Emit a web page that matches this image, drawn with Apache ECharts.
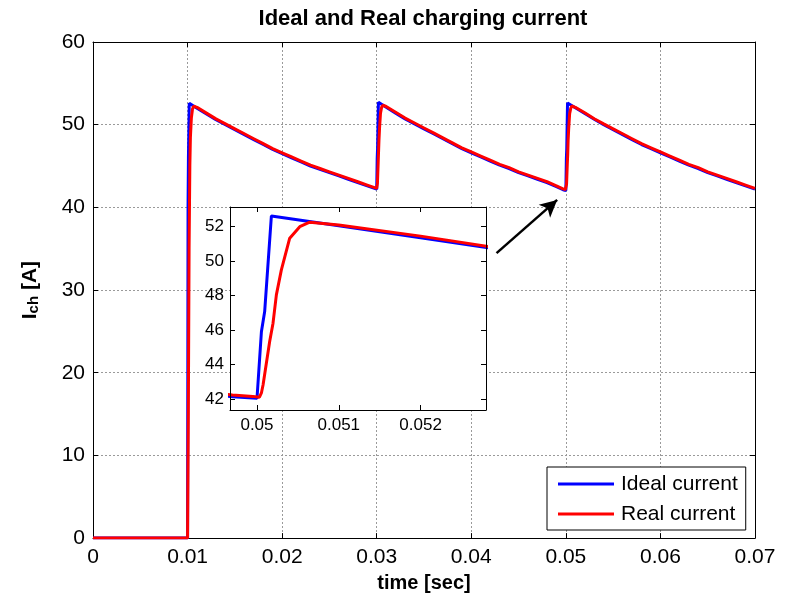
<!DOCTYPE html>
<html>
<head>
<meta charset="utf-8">
<script src="https://cdn.jsdelivr.net/npm/echarts@6/dist/echarts.min.js"></script>
<style>html,body{margin:0;padding:0;background:#fff;}#c{width:788px;height:598px;}</style>
</head>
<body>
<div id="c"></div>
<script>
// ---- data ----
const titleText = 'Ideal and Real charging current';
const xName = 'time [sec]';
const seriesNames = ['Ideal current', 'Real current'];

const idealT = [
  0, 0.01, 0.01005, 0.01009, 0.01018,
  0.011, 0.012, 0.013, 0.014, 0.015, 0.016, 0.017, 0.018, 0.019, 0.020,
  0.021, 0.022, 0.023, 0.024, 0.025, 0.026, 0.027, 0.028, 0.029, 0.030,
  0.03005, 0.03009, 0.03018,
  0.031, 0.032, 0.033, 0.034, 0.035, 0.036, 0.037, 0.038, 0.039, 0.040,
  0.041, 0.042, 0.043, 0.044, 0.045, 0.046, 0.047, 0.048, 0.049, 0.0497, 0.050,
  0.050054, 0.050094, 0.050176,
  0.051, 0.052, 0.053, 0.054, 0.055, 0.056, 0.057, 0.058, 0.059, 0.060,
  0.061, 0.062, 0.063, 0.064, 0.065, 0.066, 0.067, 0.068, 0.069, 0.070
];
const idealI = [
  0, 0, 40, 46, 52.6,
  52.0, 51.3, 50.6, 50.0, 49.4, 48.8, 48.2, 47.6, 47.0, 46.5,
  46.0, 45.5, 45.0, 44.6, 44.2, 43.8, 43.4, 43.0, 42.6, 42.2,
  45.9, 47.1, 52.7,
  52.1, 51.4, 50.7, 50.1, 49.5, 48.9, 48.3, 47.7, 47.1, 46.6,
  46.1, 45.6, 45.1, 44.7, 44.2, 43.8, 43.4, 43.0, 42.5, 42.13, 42.04,
  45.9, 47.07, 52.62,
  52.05, 51.35, 50.65, 50.0, 49.4, 48.8, 48.2, 47.6, 47.1, 46.6,
  46.1, 45.6, 45.1, 44.7, 44.2, 43.8, 43.4, 43.0, 42.6, 42.2
];

const realT = [
  0, 0.01, 0.01008, 0.01016, 0.01024, 0.0103, 0.0104, 0.01052, 0.01065,
  0.011, 0.012, 0.013, 0.014, 0.015, 0.016, 0.017, 0.018, 0.019, 0.020,
  0.021, 0.022, 0.023, 0.024, 0.025, 0.026, 0.027, 0.028, 0.029, 0.030,
  0.030075, 0.030155, 0.030237, 0.0303, 0.0304, 0.03052, 0.03065,
  0.031, 0.032, 0.033, 0.034, 0.035, 0.036, 0.037, 0.038, 0.039, 0.040,
  0.041, 0.042, 0.043, 0.044, 0.045, 0.046, 0.047, 0.048, 0.049, 0.0497,
  0.04995, 0.05003, 0.050054, 0.050074, 0.050155, 0.050196, 0.050237, 0.050298, 0.0504, 0.050523, 0.050645,
  0.051, 0.052, 0.053, 0.054, 0.055, 0.056, 0.057, 0.058, 0.059, 0.060,
  0.061, 0.062, 0.063, 0.064, 0.065, 0.066, 0.067, 0.068, 0.069, 0.070
];
const realI = [
  0, 0, 15, 35, 45, 48.5, 50.8, 51.9, 52.25,
  52.1, 51.4, 50.7, 50.1, 49.5, 48.9, 48.3, 47.7, 47.1, 46.6,
  46.1, 45.6, 45.1, 44.7, 44.3, 43.9, 43.5, 43.1, 42.7, 42.3,
  42.9, 45.4, 48.1, 49.6, 51.4, 52.1, 52.35,
  52.2, 51.5, 50.8, 50.2, 49.6, 49.0, 48.4, 47.8, 47.2, 46.7,
  46.2, 45.7, 45.2, 44.8, 44.3, 43.9, 43.5, 43.1, 42.6, 42.23,
  42.15, 42.1, 42.35, 42.81, 45.33, 46.4, 48.04, 49.49, 51.33, 52.0, 52.26,
  52.1, 51.45, 50.72, 50.1, 49.5, 48.9, 48.3, 47.7, 47.2, 46.7,
  46.2, 45.7, 45.2, 44.8, 44.3, 43.9, 43.5, 43.1, 42.7, 42.3
];

// main axes
const mainX = {min: 0, max: 0.07, step: 0.01};
const mainY = {min: 0, max: 60, step: 10};
// inset (zoom) axes: ticks fall on nice multiples (0.05, 0.051, 0.052 / 42..52)
const zoomX = {min: 0.04967, max: 0.0528, splits: 3};
const zoomY = {min: 41.36, max: 53.14, splits: 6};
// arrow annotation (data coords in main axes): tail -> head
const arrowFrom = [0.04267, 34.46];
const arrowTo = [0.04908, 40.9];

// ---- chart ----
const zip = (a, b) => a.map((v, i) => [v, b[i]]);
const fmt = v => String(parseFloat(v.toFixed(4)));
const FONT = 'Liberation Sans, Arial, sans-serif';
const BLUE = '#0000ff', RED = '#ff0000';

function axisBase(extra) {
  return Object.assign({
    type: 'value',
    axisLine: {show: true, onZero: false, lineStyle: {color: '#000', width: 1}},
    axisTick: {show: true, inside: true, length: 5, lineStyle: {color: '#000'}},
    splitLine: {show: false},
    axisLabel: {show: false}
  }, extra);
}

const chart = echarts.init(document.getElementById('c'), null, {renderer: 'canvas'});
const gridMain = {left: 93, top: 42, right: 33, bottom: 57, show: false, containLabel: false};
const gridZoom = {left: 230, top: 207, width: 256, height: 203, show: true, backgroundColor: '#fff', borderWidth: 0, z: 10};

const option = {
  animation: false,
  backgroundColor: '#fff',
  title: {
    text: titleText, left: 418, top: 3, textAlign: 'center',
    textStyle: {fontFamily: FONT, fontSize: 22, fontWeight: 'bold', color: '#000'}
  },
  legend: {
    data: seriesNames, orient: 'vertical', left: 547, top: 467,
    icon: 'rect', itemWidth: 56, itemHeight: 3, itemGap: 6,
    padding: [5, 8, 4, 11],
    borderColor: '#000', borderWidth: 1, backgroundColor: '#fff',
    textStyle: {fontFamily: FONT, fontSize: 21, color: '#000', lineHeight: 24, padding: [0, 0, 0, 2]},
    z: 20
  },
  grid: [gridMain, gridZoom],
  xAxis: [
    axisBase({gridIndex: 0, position: 'bottom', min: mainX.min, max: mainX.max, interval: mainX.step,
      name: xName, nameLocation: 'middle', nameGap: 33,
      nameTextStyle: {fontFamily: FONT, fontSize: 20, fontWeight: 'bold', color: '#000'},
      axisLabel: {show: true, margin: 9, formatter: fmt, fontFamily: FONT, fontSize: 21, color: '#000'},
      splitLine: {show: true, lineStyle: {color: '#9a9a9a', type: [2, 2], width: 1}}}),
    axisBase({gridIndex: 0, position: 'top', min: mainX.min, max: mainX.max, interval: mainX.step}),
    axisBase({gridIndex: 1, position: 'bottom', min: zoomX.min, max: zoomX.max, splitNumber: zoomX.splits, z: 12,
      axisLabel: {show: true, margin: 7, formatter: fmt, showMinLabel: false, showMaxLabel: false,
        fontFamily: FONT, fontSize: 17, color: '#000'}}),
    axisBase({gridIndex: 1, position: 'top', min: zoomX.min, max: zoomX.max, splitNumber: zoomX.splits, z: 12})
  ],
  yAxis: [
    axisBase({gridIndex: 0, position: 'left', min: mainY.min, max: mainY.max, interval: mainY.step,
      name: '{b|I}{s|ch}{b| [A]}', nameLocation: 'middle', nameGap: 52, nameRotate: 90,
      nameTextStyle: {rich: {
        b: {fontFamily: FONT, fontSize: 21, fontWeight: 'bold', color: '#000', lineHeight: 26, verticalAlign: 'bottom'},
        s: {fontFamily: FONT, fontSize: 15, fontWeight: 'bold', color: '#000', lineHeight: 26, verticalAlign: 'bottom', padding: [10, 0, 0, 0]}
      }},
      axisLabel: {show: true, margin: 8, formatter: fmt, fontFamily: FONT, fontSize: 21, color: '#000'},
      splitLine: {show: true, lineStyle: {color: '#9a9a9a', type: [2, 2], width: 1}}}),
    axisBase({gridIndex: 0, position: 'right', min: mainY.min, max: mainY.max, interval: mainY.step}),
    axisBase({gridIndex: 1, position: 'left', min: zoomY.min, max: zoomY.max, splitNumber: zoomY.splits, z: 12,
      axisLabel: {show: true, margin: 6, formatter: fmt, showMinLabel: false, showMaxLabel: false,
        fontFamily: FONT, fontSize: 17, color: '#000'}}),
    axisBase({gridIndex: 1, position: 'right', min: zoomY.min, max: zoomY.max, splitNumber: zoomY.splits, z: 12})
  ],
  series: [
    {name: seriesNames[0], type: 'line', xAxisIndex: 0, yAxisIndex: 0, data: zip(idealT, idealI),
      showSymbol: false, symbol: 'none', lineStyle: {color: BLUE, width: 3}, itemStyle: {color: BLUE}, z: 2,
      markLine: {silent: true, symbol: ['none', 'arrow'], symbolSize: [13, 17], label: {show: false},
        lineStyle: {color: '#000', width: 2.5, type: 'solid'},
        data: [[{coord: arrowFrom}, {coord: arrowTo}]]}},
    {name: seriesNames[1], type: 'line', xAxisIndex: 0, yAxisIndex: 0, data: zip(realT, realI),
      showSymbol: false, symbol: 'none', lineStyle: {color: RED, width: 3}, itemStyle: {color: RED}, z: 3},
    {name: seriesNames[0], type: 'line', xAxisIndex: 2, yAxisIndex: 2, data: zip(idealT, idealI),
      showSymbol: false, symbol: 'none', clip: true, lineStyle: {color: BLUE, width: 3}, itemStyle: {color: BLUE}, z: 11},
    {name: seriesNames[1], type: 'line', xAxisIndex: 2, yAxisIndex: 2, data: zip(realT, realI),
      showSymbol: false, symbol: 'none', clip: true, lineStyle: {color: RED, width: 3}, itemStyle: {color: RED}, z: 11}
  ]
};
chart.setOption(option);
</script>
</body>
</html>
